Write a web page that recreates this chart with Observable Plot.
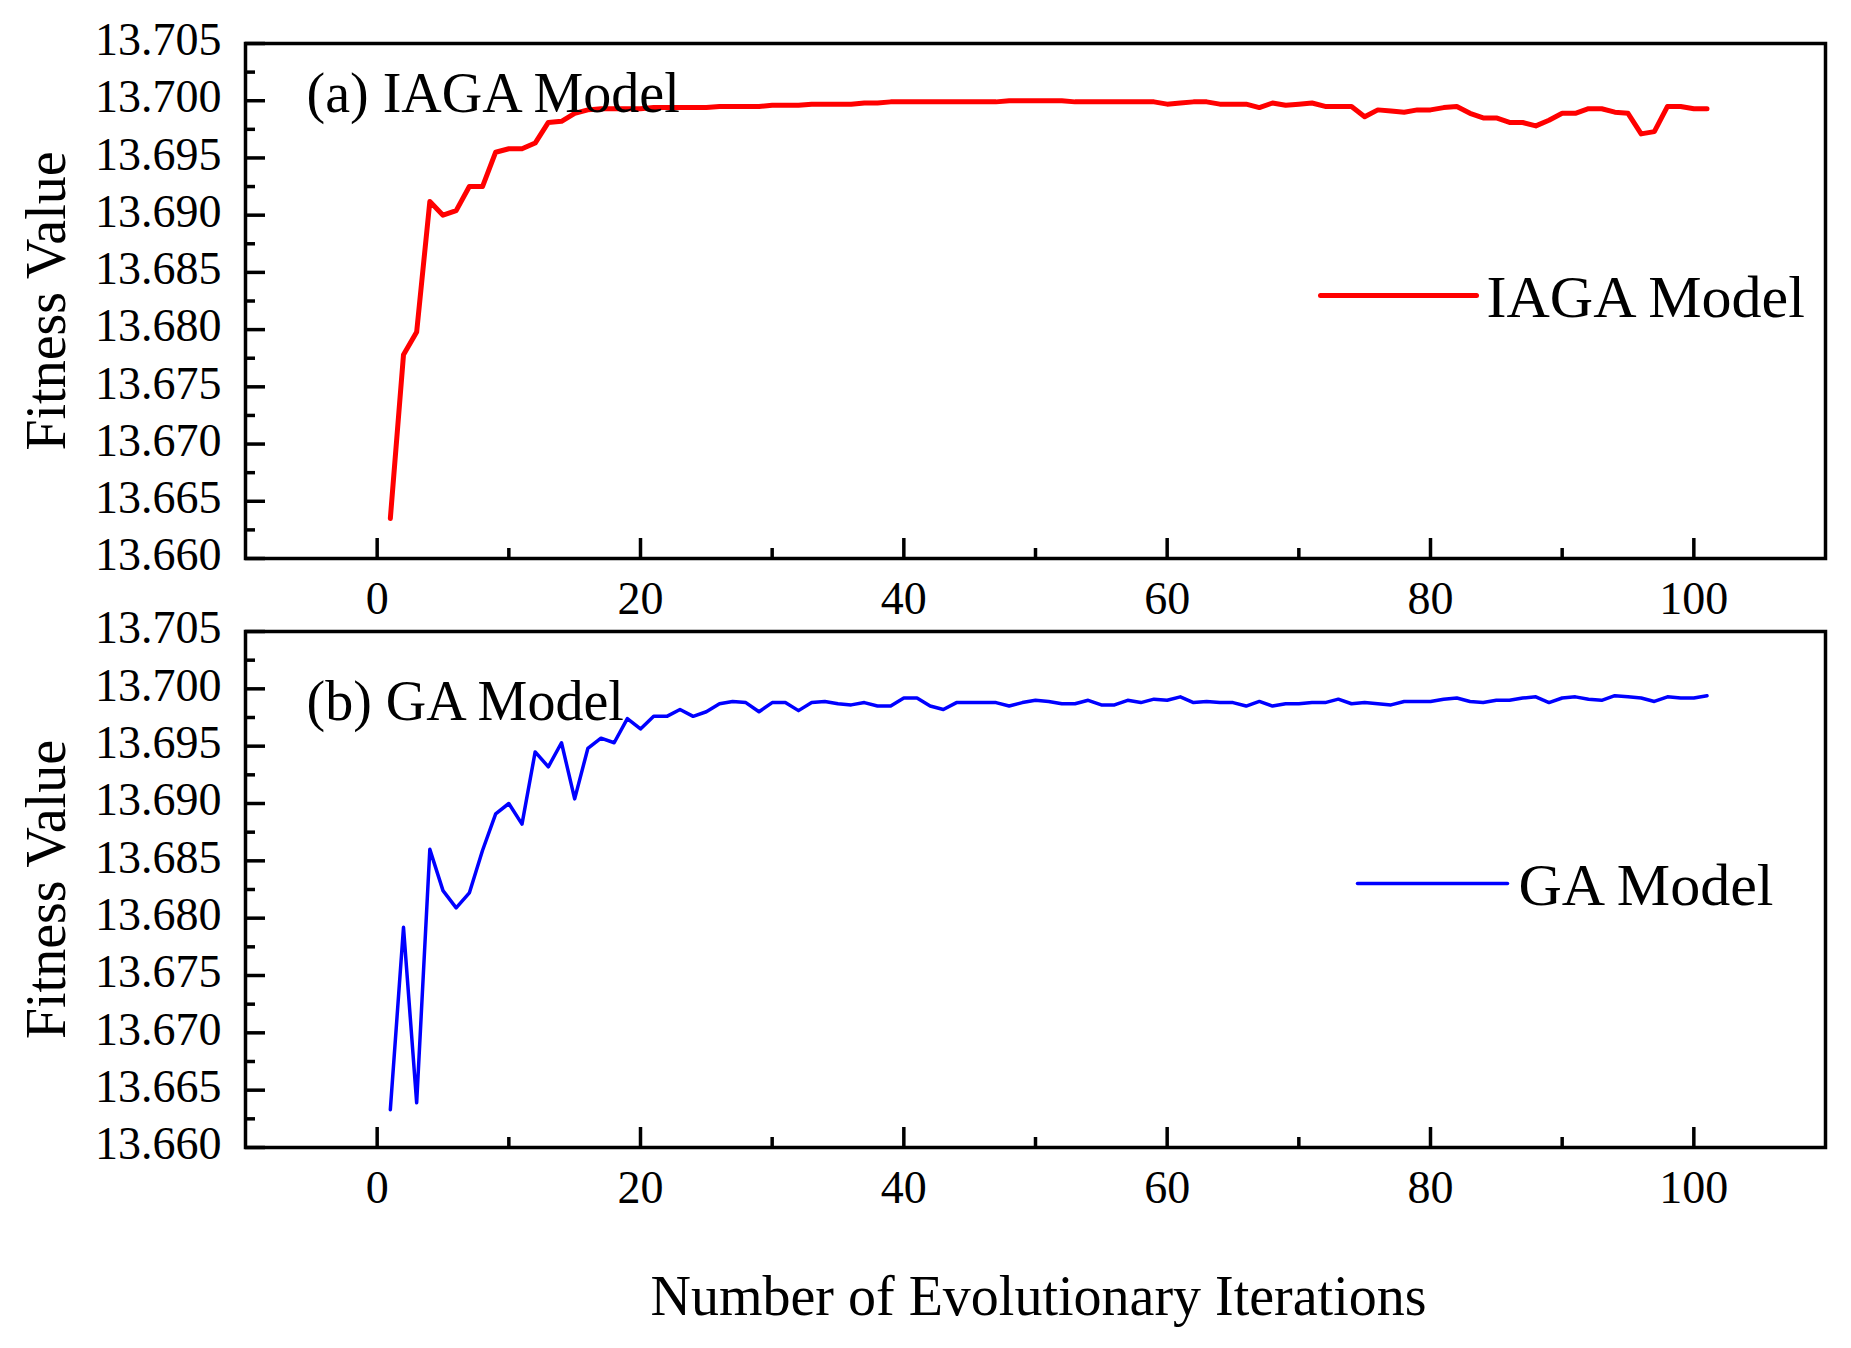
<!DOCTYPE html>
<html>
<head>
<meta charset="utf-8">
<script src="https://cdn.jsdelivr.net/npm/d3@7"></script>
<script src="https://cdn.jsdelivr.net/npm/@observablehq/plot@0.6"></script>
<style>
  body { margin: 0; background: white; }
  #plot-region svg { display: block; overflow: visible; }
</style>
</head>
<body>
<div id="plot-region"></div>
<script>
// fitness per evolutionary iteration (iterations 1..101)
const IAGA_FITNESS = [
  13.6635, 13.6778, 13.6798, 13.6912, 13.6900, 13.6904, 13.6925, 13.6925, 13.6955, 13.6958,
  13.6958, 13.6963, 13.6981, 13.6982, 13.6989, 13.6992, 13.6993, 13.6993, 13.6993, 13.6993,
  13.6994, 13.6994, 13.6994, 13.6994, 13.6994, 13.6995, 13.6995, 13.6995, 13.6995, 13.6996,
  13.6996, 13.6996, 13.6997, 13.6997, 13.6997, 13.6997, 13.6998, 13.6998, 13.6999, 13.6999,
  13.6999, 13.6999, 13.6999, 13.6999, 13.6999, 13.6999, 13.6999, 13.7000, 13.7000, 13.7000,
  13.7000, 13.7000, 13.6999, 13.6999, 13.6999, 13.6999, 13.6999, 13.6999, 13.6999, 13.6997,
  13.6998, 13.6999, 13.6999, 13.6997, 13.6997, 13.6997, 13.6994, 13.6998, 13.6996, 13.6997,
  13.6998, 13.6995, 13.6995, 13.6995, 13.6986, 13.6992, 13.6991, 13.6990, 13.6992, 13.6992,
  13.6994, 13.6995, 13.6989, 13.6985, 13.6985, 13.6981, 13.6981, 13.6978, 13.6983, 13.6989,
  13.6989, 13.6993, 13.6993, 13.6990, 13.6989, 13.6971, 13.6973, 13.6995, 13.6995, 13.6993,
  13.6993
];

const GA_FITNESS = [
  13.6633, 13.6792, 13.6639, 13.6860, 13.6824, 13.6809, 13.6822, 13.6859, 13.6891, 13.6900,
  13.6882, 13.6945, 13.6932, 13.6953, 13.6904, 13.6948, 13.6957, 13.6953, 13.6974, 13.6965,
  13.6976, 13.6976, 13.6982, 13.6976, 13.6980, 13.6987, 13.6989, 13.6988, 13.6980, 13.6988,
  13.6988, 13.6981, 13.6988, 13.6989, 13.6987, 13.6986, 13.6988, 13.6985, 13.6985, 13.6992,
  13.6992, 13.6985, 13.6982, 13.6988, 13.6988, 13.6988, 13.6988, 13.6985, 13.6988, 13.6990,
  13.6989, 13.6987, 13.6987, 13.6990, 13.6986, 13.6986, 13.6990, 13.6988, 13.6991, 13.6990,
  13.6993, 13.6988, 13.6989, 13.6988, 13.6988, 13.6985, 13.6989, 13.6985, 13.6987, 13.6987,
  13.6988, 13.6988, 13.6991, 13.6987, 13.6988, 13.6987, 13.6986, 13.6989, 13.6989, 13.6989,
  13.6991, 13.6992, 13.6989, 13.6988, 13.6990, 13.6990, 13.6992, 13.6993, 13.6988, 13.6992,
  13.6993, 13.6991, 13.6990, 13.6994, 13.6993, 13.6992, 13.6989, 13.6993, 13.6992, 13.6992,
  13.6994
];

const Y_TICKS = [13.660, 13.665, 13.670, 13.675, 13.680, 13.685, 13.690, 13.695, 13.700, 13.705];
const Y_MINOR = [13.6625, 13.6675, 13.6725, 13.6775, 13.6825, 13.6875, 13.6925, 13.6975, 13.7025];
const X_TICKS = [0, 20, 40, 60, 80, 100];
const X_MINOR = [10, 30, 50, 70, 90];

const FONT = "'Liberation Serif', 'Times New Roman', serif";

// straight stroke for the legend sample, drawn along the vector direction
const hLine = { draw(context, l) { context.moveTo(0, 0); context.lineTo(0, -l); } };

function toRows(values) {
    return values.map((v, i) => ({ iter: i + 1, fitness: v }));
}

function makePanel(cfg) {
    return Plot.plot({
        width: 1851,
        height: cfg.height,
        marginLeft: 245,
        marginRight: 26,
        marginTop: cfg.marginTop,
        marginBottom: cfg.marginBottom,
        style: { fontFamily: FONT, fontSize: "46px", overflow: "visible", background: "white", color: "black" },
        x: { domain: [-10, 110] },
        y: { domain: [13.660, 13.705] },
        marks: [
            Plot.line(toRows(cfg.values), { x: "iter", y: "fitness", stroke: cfg.color, strokeWidth: cfg.lineWidth }),
            Plot.axisX({ ticks: X_TICKS, tickSize: 0, tickPadding: 23, tickFormat: d => String(d), label: null, fontSize: 46 }),
            Plot.axisX({ ticks: X_TICKS, tickSize: -20, tickFormat: () => "", strokeWidth: 3.5, label: null }),
            Plot.axisX({ ticks: X_MINOR, tickSize: -10, tickFormat: () => "", strokeWidth: 3.5, label: null }),
            Plot.axisY({ ticks: Y_TICKS, tickSize: 0, tickPadding: 24, dy: -3, tickFormat: d => d.toFixed(3), label: null, fontSize: 46 }),
            Plot.axisY({ ticks: Y_TICKS, tickSize: -20, tickFormat: () => "", strokeWidth: 3.5, label: null }),
            Plot.axisY({ ticks: Y_MINOR, tickSize: -10, tickFormat: () => "", strokeWidth: 3.5, label: null }),
            Plot.frame({ strokeWidth: 3.5 }),
            Plot.text(["Fitness Value"], { frameAnchor: "left", dx: -198, rotate: -90, textAnchor: "middle", lineAnchor: "middle", fontSize: 56, fill: "black" }),
            Plot.text([cfg.panelLabel], { frameAnchor: "top-left", dx: 61, dy: cfg.panelDy, textAnchor: "start", lineAnchor: "middle", fontSize: 56, fill: "black" }),
            Plot.vector([0], { frameAnchor: "top-left", dx: cfg.legendLineDx, dy: 252, rotate: 90, length: cfg.legendLineLen, anchor: "start", shape: hLine, stroke: cfg.color, strokeWidth: cfg.lineWidth, strokeLinecap: "round" }),
            Plot.text([cfg.legendLabel], { frameAnchor: "top-left", dx: cfg.legendTextDx, dy: 254, textAnchor: "start", lineAnchor: "middle", fontSize: 60, fill: "black" })
        ].concat(cfg.extra || [])
    });
}

let topPanel = makePanel({
    values: IAGA_FITNESS, color: "#ff0000", lineWidth: 5,
    height: 620, marginTop: 43, marginBottom: 62,
    panelLabel: "(a) IAGA Model", panelDy: 51,
    legendLabel: "IAGA Model", legendLineDx: 1075, legendLineLen: 156, legendTextDx: 1241
});

let bottomPanel = makePanel({
    values: GA_FITNESS, color: "#0000ff", lineWidth: 3.5,
    height: 728, marginTop: 11, marginBottom: 201,
    panelLabel: "(b) GA Model", panelDy: 71,
    legendLabel: "GA Model", legendLineDx: 1112, legendLineLen: 150, legendTextDx: 1273,
    extra: [
        Plot.text(["Number of Evolutionary Iterations"], { frameAnchor: "bottom", dx: 3, dy: 150, lineAnchor: "middle", fontSize: 56, fill: "black" })
    ]
});

let plot = document.getElementById("plot-region");
plot.innerHTML = "";
plot.append(topPanel);
plot.append(bottomPanel);
</script>
</body>
</html>
